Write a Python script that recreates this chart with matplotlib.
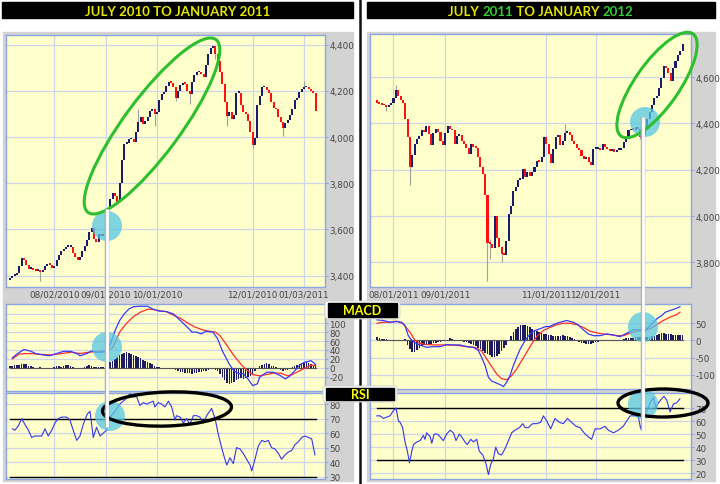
import numpy as np
import matplotlib
matplotlib.use('Agg')
import matplotlib.pyplot as plt
from matplotlib.patches import Rectangle, Ellipse, Circle, FancyBboxPatch

W, H = 720, 485

# ---------------- data: July 2010 - January 2011 ----------------
open_l0 = 3380
close_l = [3390, 3400, 3405, 3410, 3440, 3475, 3470, 3445, 3430, 3430,
           3425, 3420, 3425, 3415, 3425, 3440, 3450, 3445, 3435, 3440,
           3470, 3490, 3505, 3515, 3525, 3525, 3525, 3500, 3480, 3470,
           3480, 3505, 3530, 3555, 3590, 3605, 3560, 3545, 3580, 3570,
           3580, 3585, 3690, 3730, 3760, 3745, 3720, 3800, 3900, 3970,
           3975, 3990, 3990, 3980, 4020, 4065, 4085, 4055, 4070, 4085,
           4115, 4120, 4100, 4110, 4160, 4185, 4195, 4220, 4240, 4235,
           4215, 4170, 4200, 4225, 4235, 4230, 4200, 4185, 4240, 4270,
           4280, 4280, 4275, 4260, 4310, 4360, 4385, 4395, 4360, 4330,
           4280, 4230, 4150, 4090, 4110, 4080, 4095, 4190, 4190, 4140,
           4110, 4100, 4070, 4020, 3965, 3995, 4140, 4180, 4215, 4215,
           4205, 4190, 4150, 4125, 4120, 4085, 4065, 4040, 4060, 4075,
           4095, 4120, 4160, 4170, 4195, 4210, 4215, 4215, 4210, 4200,
           4190, 4115]
wick_l_idx = [13, 55, 62, 71, 77, 88, 93, 104, 117, 126]
wick_l_lo = [3375, 4060, 4050, 4158, 4143, 4340, 4050, 3951, 4003, 4210]
wick_l_hi = [3425, 4120, 4100, 4215, 4200, 4378, 4095, 3995, 4045, 4241]

hist_l = [4, 5, 6, 6, 7, 9, 9, 8, 5, 3,
          1, 0, 0, 1, -1, 0, 0, -1, 0, 1,
          3, 3, 2, 4, 6, 6, 5, 2, 0, -1,
          -2, 0, 1, 3, 6, 5, 2, 1, 2, 1,
          2, 3, 6, 12, 16, 20, 24, 28, 30, 33,
          35, 33, 32, 29, 27, 25, 22, 18, 16, 14,
          11, 8, 4, 2, 1, 0, 0, 0, -1, -2,
          -3, -6, -8, -9, -10, -11, -11, -12, -13, -12,
          -11, -10, -9, -8, -7, -5, -3, -2, -4, -8,
          -15, -20, -28, -33, -36, -35, -32, -28, -25, -22,
          -25, -22, -20, -18, -14, -8, -2, 3, 6, 9,
          11, 9, 5, 3, 1, -2, -5, -7, -6, -4,
          -1, 2, 5, 7, 8, 10, 11, 12, 10, 9,
          7, 4]
macd_l_x = [1, 3, 6, 9, 11, 14, 17, 20, 23, 26, 29, 30, 33, 35, 37, 39, 41, 43, 45, 47,
            49, 51, 53, 56, 59, 61, 64, 67, 70, 73, 76, 78, 80, 82, 84, 87, 89, 91, 94, 96,
            98, 100, 102, 104, 106, 107, 110, 113, 116, 118, 120, 122, 124, 126, 129, 130, 131]
macd_l = [22, 31, 41, 37, 32, 29, 27, 32, 37, 37, 31, 27, 32, 38, 35, 35, 36, 53, 83, 106,
          121, 132, 137, 138, 138, 132, 127, 126, 121, 106, 91, 80, 80, 76, 82, 80, 65, 38, 8, -7,
          -13, -13, -25, -40, -36, -21, -10, -10, -18, -25, -18, -7, 5, 12, 16, 12, 7]
signal_l_x = [1, 4, 9, 13, 17, 21, 26, 30, 34, 39, 41, 44, 47, 50, 53, 56, 59, 61, 64, 67,
              70, 73, 76, 79, 81, 84, 88, 90, 93, 96, 99, 101, 104, 107, 110, 113, 116, 119, 121, 124,
              127, 129, 131]
signal_l = [20, 31, 32, 30, 29, 31, 35, 32, 35, 37, 38, 45, 80, 100, 115, 125, 131, 131, 128, 126,
            118, 111, 101, 92, 88, 83, 80, 72, 50, 27, 8, -3, -15, -18, -15, -12, -12, -18, -15, -7,
            1, 6, 5]
rsi_l_x = [1.1, 2.1, 3.6, 5.0, 6.4, 7.9, 9.3, 10.7, 12.1, 13.6, 15.0, 16.4, 17.9, 19.3, 20.7,
           22.1, 24.3, 25.7, 27.1, 28.6, 30.0, 31.4, 33.1, 34.3, 35.7, 37.1, 38.6, 40.0, 41.4, 42.9,
           45.0, 47.1, 49.3, 51.4, 52.9, 54.3, 55.7, 57.1, 58.6, 60.0, 61.4, 62.1, 63.6, 65.0, 66.4,
           67.9, 69.3, 70.7, 71.4, 72.9, 74.3, 75.7, 77.1, 78.6, 80.0, 81.4, 82.9, 84.3, 86.4, 87.9,
           89.3, 90.7, 92.1, 92.9, 94.3, 95.7, 97.1, 98.6, 100.0, 101.4, 102.9, 103.6, 105.0, 106.4,
           107.9, 109.3, 110.7, 112.1, 113.6, 115.0, 116.4, 117.9, 119.3, 120.7, 122.1, 123.6, 125.0,
           126.4, 127.9, 129.3, 130.7]
rsi_l = [63, 62, 65, 70, 66, 62, 57, 58, 58, 58, 63, 58, 62, 67, 70,
         71, 71, 69, 62, 55, 58, 66, 73, 75, 57, 64, 58, 60, 62, 71,
         75, 80, 83, 87, 85, 85, 79, 81, 80, 81, 82, 78, 81, 80, 78,
         82, 78, 69, 72, 71, 67, 70, 66, 72, 72, 71, 67, 72, 77, 70,
         59, 50, 42, 38, 43, 39, 50, 49, 46, 42, 38, 34, 42, 51,
         55, 54, 55, 50, 49, 46, 42, 45, 47, 48, 52, 54, 57,
         58, 57, 56, 45]
dates_l_pos = [19, 41, 63, 104, 126]
dates_l = ['08/02/2010', '09/01/2010', '10/01/2010', '12/01/2010', '01/03/2011']

# ---------------- data: July 2011 - January 2012 ----------------
open_r0 = 4500
close_r = [4490, 4485, 4480, 4478, 4470, 4478, 4490, 4510, 4545, 4520,
           4500, 4490, 4420, 4340, 4210, 4265, 4310, 4335, 4345, 4370,
           4365, 4390, 4355, 4305, 4360, 4375, 4365, 4325, 4305, 4360,
           4390, 4375, 4370, 4310, 4345, 4350, 4325, 4310, 4295, 4270,
           4310, 4300, 4295, 4255, 4210, 4180, 4090, 3885, 3880, 3860,
           4000, 3905, 3865, 3835, 3830, 3890, 4010, 4045, 4110, 4125,
           4155, 4160, 4205, 4170, 4190, 4175, 4190, 4210, 4240, 4235,
           4255, 4340, 4310, 4270, 4230, 4290, 4340, 4350, 4305, 4325,
           4360, 4365, 4350, 4325, 4310, 4295, 4285, 4260, 4245, 4255,
           4235, 4220, 4290, 4290, 4295, 4285, 4310, 4300, 4290, 4280,
           4290, 4278, 4285, 4285, 4295, 4320, 4335, 4370, 4375, 4372,
           4385, 4375, 4340, 4350, 4385, 4420, 4450, 4480, 4510, 4520,
           4555, 4595, 4650, 4640, 4620, 4585, 4640, 4670, 4695, 4715,
           4745]
wick_r_idx = [4, 8, 14, 15, 47, 48, 53, 71, 80, 112]
wick_r_lo = [4452, 4520, 4132, 4211, 3721, 3815, 3800, 4300, 4340, 4333]
wick_r_hi = [4480, 4567, 4340, 4270, 4090, 3900, 3870, 4345, 4398, 4375]

hist_r = [9, 8, 5, 5, 4, 1, 1, 0, 1, 1,
          0, 2, 3, -12, -25, -34, -33, -28, -22, -16,
          -14, -12, -10, -9, -8, -7, -4, -3, -2, -1,
          1, 6, 5, 2, 2, 1, -1, -3, -5, -8,
          -10, -12, -17, -21, -24, -30, -35, -38, -42, -47,
          -48, -44, -38, -30, -22, -12, -2, 12, 25, 33,
          40, 44, 46, 44, 42, 38, 34, 30, 27, 24,
          22, 20, 18, 17, 15, 13, 12, 13, 14, 15,
          14, 12, 10, 7, 4, 1, -3, -6, -8, -10,
          -11, -10, -8, -5, -3, -1, 1, 1, 0, 1,
          0, 1, 0, 1, 2, 4, 6, 7, 7, 8,
          9, 10, 9, 9, 10, 10, 11, 12, 14, 17,
          19, 21, 22, 20, 19, 18, 17, 17, 16, 16,
          15]
macd_r_x = [0, 2.7, 5.5, 8.4, 10.5, 11.9, 13.3, 14.8, 16.9, 19, 21.1, 24, 26.8, 29.6, 32.5,
            35.3, 38.2, 41, 43.1, 44.5, 46, 47.4, 48.8, 50.9, 52.3, 53.8, 55.2, 56.6, 58, 59.4,
            60.9, 63, 65.1, 67.2, 69.4, 71.5, 73.6, 75.7, 77.9, 80.7, 83.5, 85.7, 87.8, 89.9, 92.1,
            94.9, 97.7, 100.6, 103.4, 106.2, 109.1, 111.9, 114, 116.2, 119, 121.1, 122.6, 124.7,
            126.8, 128.9]
macd_r = [60, 58, 53, 55, 53, 43, 14, 0, -10, -15, -20, -18, -18, -12, -13,
          -13, -18, -20, -29, -49, -73, -107, -118, -124, -128, -134, -121, -102, -73, -49,
          -25, 0, 19, 29, 34, 40, 41, 48, 53, 58, 53, 45, 31, 19, 14,
          14, 19, 16, 11, 21, 31, 31, 29, 43, 63, 72, 82, 87, 92, 98]
signal_r_x = [0, 2.7, 5.5, 8.4, 11.2, 14, 16.2, 18.3, 21.1, 25.4, 29.6, 33.9, 38.2, 41.7, 44.5,
              46.7, 48.8, 50.9, 53, 55.2, 57.3, 59.4, 61.6, 63.7, 65.8, 67.9, 70.8, 73.6, 76.5, 79.3,
              82.1, 85, 87.8, 90.6, 93.5, 96.3, 99.1, 102, 104.8, 107.7, 110.5, 113.3, 116.2, 119,
              121.8, 124.7, 127.5, 128.9]
signal_r = [50, 53, 53, 56, 48, 24, 0, -8, -12, -13, -13, -14, -18, -20, -31,
            -54, -76, -97, -111, -114, -102, -83, -58, -34, -10, 11, 29, 38, 46, 50,
            50, 46, 38, 27, 22, 19, 17, 14, 14, 21, 27, 29, 34, 46, 58, 68, 75, 82]
rsi_r_x = [-0.1, 1.3, 2.7, 4.1, 5.5, 7.0, 8.1, 9.1, 9.8, 10.9, 11.9, 12.9, 13.8, 14.8, 15.5,
           16.9, 18.3, 19.7, 20.4, 21.1, 22.6, 23.3, 24.3, 25.7, 26.8, 28.2, 29.6, 31.1, 32.5, 33.6,
           35.0, 36.0, 37.4, 38.4, 39.9, 41.0, 42.4, 43.5, 45.0, 46.4, 47.4, 48.4, 49.5, 50.5, 51.6,
           53.0, 54.5, 55.9, 57.3, 58.7, 60.6, 62.0, 63.0, 64.4, 66.2, 67.9, 69.6, 70.8, 72.2, 73.9,
           75.7, 77.6, 79.3, 81.0, 82.8, 84.7, 86.4, 88.1, 89.2, 91.3, 92.8, 94.9, 97.0, 98.4, 100.6,
           102.7, 104.8, 106.2, 107.7, 109.8, 111.2, 112.2, 113.3, 114.8, 116.2, 117.6, 118.7, 119.7,
           121.1, 122.1, 123.3, 124.7, 126.1, 127.5, 128.9]
rsi_r = [64, 64, 62, 63, 64, 68, 70, 60, 59, 55, 44, 37, 28, 37, 42,
         44, 45, 49, 46, 51, 48, 43, 50, 50, 48, 45, 50, 53, 51, 45,
         50, 48, 44, 42, 46, 44, 46, 37, 34, 27, 19, 27, 31, 40, 35,
         34, 39, 45, 51, 53, 55, 58, 55, 55, 58, 58, 59, 64, 60, 54,
         62, 59, 58, 62, 59, 56, 55, 51, 49, 46, 54, 54, 56, 53, 51,
         53, 56, 60, 64, 64, 63, 54, 63, 68, 74, 78, 70, 74,
         77, 79, 76, 67, 73, 74, 77]
dates_r_pos = [7, 29, 72, 93]
dates_r = ['08/01/2011', '09/01/2011', '11/01/2011', '12/01/2011']

# ---------------- colours ----------------
FACE = '#ffffcc'
GRID = '#cfd5e8'
FRAME = '#8ba6e2'
NAVY = '#1b1b6b'
RED = '#ff1010'
GRAY = '#d3d3d3'
TXT = '#454545'

fig = plt.figure(figsize=(7.2, 4.85), dpi=100)
fig.patch.set_facecolor('white')


def px_axes(x0, y0, x1, y1, z=1):
    return fig.add_axes([x0 / W, 1 - y1 / H, (x1 - x0) / W, (y1 - y0) / H], zorder=z)


def style(ax, xlim, ylim, yticks, ylabels, xticks=(), xlabels=()):
    ax.set_facecolor(FACE)
    ax.set_xlim(*xlim)
    ax.set_ylim(*ylim)
    ax.yaxis.tick_right()
    ax.set_yticks(yticks)
    ax.set_yticklabels(ylabels)
    ax.set_xticks(list(xticks))
    ax.set_xticklabels(list(xlabels))
    ax.grid(True, color=GRID, lw=0.9)
    ax.set_axisbelow(True)
    for s in ax.spines.values():
        s.set_color(FRAME)
        s.set_linewidth(1.0)
    ax.tick_params(axis='y', length=2, color=FRAME, labelsize=6.3, labelcolor=TXT, pad=1)
    ax.tick_params(axis='x', length=0, labelsize=6.3, labelcolor=TXT, pad=1.5)


def candles(ax, open0, close, w_idx, w_lo, w_hi):
    close = np.array(close, dtype=float)
    x = np.arange(len(close))
    opens = np.r_[open0, close[:-1]]
    ax.vlines(w_idx, w_lo, w_hi, color='#a0a0a0', lw=0.8, zorder=2)
    lo = np.minimum(opens, close)
    hgt = np.maximum(np.abs(close - opens), 8)
    cols = np.where(close >= opens, NAVY, RED)
    ax.bar(x, hgt, bottom=lo, width=0.88, color=cols, zorder=3)


def macd_panel(ax, hist, mx, mv, sx, sv):
    x = np.arange(len(hist))
    ax.bar(x, hist, width=0.7, color='#1c1c5e', zorder=2)
    ax.plot([0, len(hist) - 1], [0, 0], color='#555555', lw=0.8, zorder=2)
    ax.plot(sx, sv, color='#ff2b2b', lw=0.9, zorder=3)
    ax.plot(mx, mv, color='#3838ff', lw=0.9, zorder=4)


def rsi_panel(ax, n, rx, rv):
    ax.plot([0, n - 1], [70, 70], color='black', lw=1.0, zorder=2)
    ax.plot([0, n - 1], [30, 30], color='black', lw=1.0, zorder=2)
    ax.plot(rx, rv, color='#3434ee', lw=0.8, zorder=3)


# ---------------- background ----------------
bg = px_axes(0, 0, W, H, z=0)
bg.set_xlim(0, W)
bg.set_ylim(H, 0)
bg.axis('off')
bg.add_patch(Rectangle((3, 33), 350, 449, color=GRAY))
bg.add_patch(Rectangle((367, 33), 348, 449, color=GRAY))
bg.add_patch(Rectangle((2, 3), 351, 16, color='black'))
bg.add_patch(Rectangle((367, 3), 348, 16, color='black'))
bg.plot([360, 360], [0, H], color='#111111', lw=1.8)

# ---------------- left charts ----------------
nl = len(close_l)
xl = (-1.7, 135.0)
ax1 = px_axes(6, 36, 325, 288)
candles(ax1, open_l0, close_l, wick_l_idx, wick_l_lo, wick_l_hi)
style(ax1, xl, (3351, 4442), range(3400, 4401, 200),
      [f'{v:,}' for v in range(3400, 4401, 200)], dates_l_pos, dates_l)

ax2 = px_axes(6, 305, 325, 392)
macd_panel(ax2, hist_l, macd_l_x, macd_l, signal_l_x, signal_l)
style(ax2, xl, (-52, 143), range(-20, 121, 20), [str(v) for v in range(-20, 121, 20)])
ax2.set_xticks(dates_l_pos)
ax2.set_xticklabels([])

ax3 = px_axes(6, 394, 325, 480)
rsi_panel(ax3, nl, rsi_l_x, rsi_l)
style(ax3, xl, (28.4, 87.6), range(30, 81, 10), [str(v) for v in range(30, 81, 10)])
ax3.set_xticks(dates_l_pos)
ax3.set_xticklabels([])

# ---------------- right charts ----------------
nr = len(close_r)
xr = (-3.0, 133.6)
ax4 = px_axes(370, 35, 691, 288)
candles(ax4, open_r0, close_r, wick_r_idx, wick_r_lo, wick_r_hi)
style(ax4, xr, (3693, 4787), range(3800, 4601, 200),
      [f'{v:,}' for v in range(3800, 4601, 200)], dates_r_pos, dates_r)

ax5 = px_axes(370, 305, 691, 390)
macd_panel(ax5, hist_r, macd_r_x, macd_r, signal_r_x, signal_r)
style(ax5, xr, (-141, 106), [-100, -50, 0, 50], ['-100', '-50', '0', '50'])
ax5.set_xticks(dates_r_pos)
ax5.set_xticklabels([])

ax6 = px_axes(370, 394, 691, 480)
rsi_panel(ax6, nr, rsi_r_x, rsi_r)
style(ax6, xr, (15.6, 81.5), range(20, 71, 10), [str(v) for v in range(20, 71, 10)])
ax6.set_xticks(dates_r_pos)
ax6.set_xticklabels([])

# ---------------- overlay annotations ----------------
ov = px_axes(0, 0, W, H, z=10)
ov.set_xlim(0, W)
ov.set_ylim(H, 0)
ov.axis('off')
ov.patch.set_alpha(0)

# white marker lines
for xv, y0, y1 in [(107, 210, 428), (643, 118, 432)]:
    ov.plot([xv, xv], [y0, y1], color='#b0b0b0', lw=3.2, solid_capstyle='butt')
    ov.plot([xv, xv], [y0, y1], color='white', lw=2.0, solid_capstyle='butt')

# blue circles
for cx, cy in [(107, 227), (107, 348), (110, 417), (645, 123), (643, 328), (643, 405)]:
    ov.add_patch(Circle((cx, cy), 15, facecolor='#56c6e3', edgecolor='none', alpha=0.75))

# green ellipses around the rallies
ov.add_patch(Ellipse((152, 127), 215, 56, angle=-53.5, fill=False, edgecolor='#2dbf2d', lw=2.2))
ov.add_patch(Ellipse((657, 86), 125, 44, angle=-55, fill=False, edgecolor='#2dbf2d', lw=2.2))

# black ellipses on RSI
ov.add_patch(Ellipse((167, 410), 129, 34, angle=-2, fill=False, edgecolor='black', lw=2.4))
ov.add_patch(Ellipse((663, 404), 90, 28, angle=0, fill=False, edgecolor='black', lw=2.4))

# MACD / RSI labels
for (x0, y0, w, h, label) in [(325, 302, 75, 18, 'MACD'), (323, 387, 74, 16, 'RSI')]:
    ov.add_patch(FancyBboxPatch((x0, y0), w, h, boxstyle='round,pad=0,rounding_size=3',
                                facecolor='white', edgecolor='#cccccc', lw=0.6))
    ov.add_patch(Rectangle((x0 + 3, y0 + 2), w - 6, h - 4, color='black'))
    ov.text(x0 + w / 2, y0 + h / 2 + 0.5, label, color='#ffff00', ha='center', va='center',
            fontsize=9, fontweight='bold', family='Lato')

# titles
ov.text(178, 11.5, 'JULY 2010 TO JANUARY 2011', color='#e6e600', ha='center', va='center',
        fontsize=9.5, fontweight='bold', family='Lato')

pieces = [('JULY ', '#e6e600'), ('2011', '#33cc33'), (' TO JANUARY ', '#e6e600'), ('2012', '#33cc33')]
r = fig.canvas.get_renderer()
texts = [ov.text(0, 11.5, s, color=c, ha='left', va='center', fontsize=9.5,
                 fontweight='bold', family='Lato') for s, c in pieces]
widths = []
for t in texts:
    bb = t.get_window_extent(renderer=r)
    widths.append(bb.width)
xpos = 541 - sum(widths) / 2
for t, wd in zip(texts, widths):
    t.set_x(xpos)
    xpos += wd

fig.savefig('out.png', dpi=100)
